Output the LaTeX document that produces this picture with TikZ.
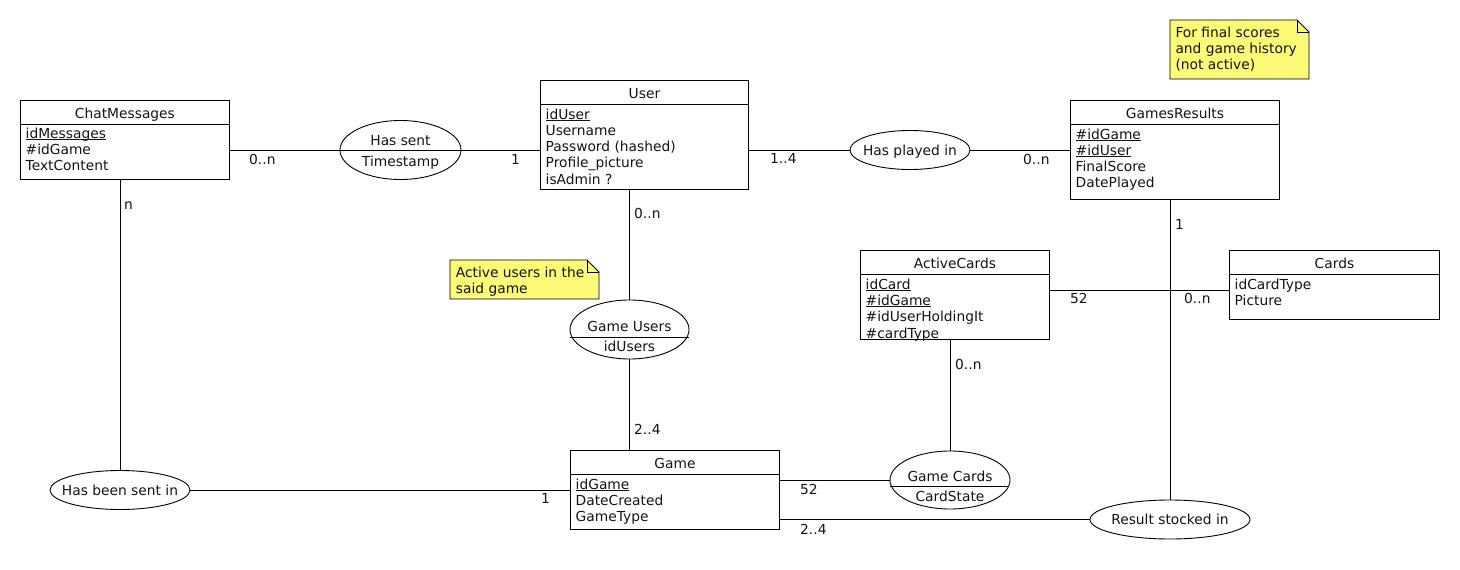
\documentclass[tikz,border=0pt]{standalone}
\usepackage{fontspec}
\setmainfont{DejaVu Sans}
\usetikzlibrary{shapes.geometric}

\definecolor{notefill}{RGB}{251,251,119}
\definecolor{ink}{RGB}{20,20,20}

% underline drawn close to the baseline, through descenders
\newcommand\ulk[1]{\setbox0\hbox{#1}\rlap{\rule[-1.6pt]{\wd0}{0.8pt}}\box0}

% attribute lines of an entity: name, first baseline offset from top, list
\newcommand\attrs[3]{%
  \foreach \a [count=\i] in {#3} {%
    \node[att] (#1-\i) at ([xshift=5.5pt,yshift={-#2-(\i-1)*16.3}]#1.north west) {\a};}}

% entity box with its header line and title
\newcommand\entity[6]{% name, x, y, width, height, title
  \node[ent, minimum width=#4pt, minimum height=#5pt] (#1) at (#2,#3) {};
  \draw[edge] ([yshift=-24.3pt]#1.north west) -- ([yshift=-24.3pt]#1.north east);
  \node[ttl] (#1-title) at ([yshift=-18.3pt]#1.north) {#6};}

% note with a folded corner
\newcommand\notebox[5]{% x1, y1, x2, y2, fold
  \draw[edge, fill=notefill] (#1,#2) -- ({#3-#5},#2) -- (#3,{#2+#5}) -- (#3,#4) -- (#1,#4) -- cycle;
  \draw[edge] ({#3-#5},#2) -- ({#3-#5},{#2+#5}) -- (#3,{#2+#5});}

\tikzset{
  txt/.style={font=\fontsize{13.8}{16}\selectfont, text=ink, inner sep=0pt},
  edge/.style={line width=0.9pt, draw=black},
  ent/.style={edge, rectangle, inner sep=0pt, anchor=north west},
  ttl/.style={txt, anchor=base},
  att/.style={txt, anchor=base west},
  rel/.style={edge, ellipse, inner sep=0pt},
  lab/.style={txt, anchor=base west},
  ctr/.style={txt, anchor=base},
}

\begin{document}
\begin{tikzpicture}[x=1pt,y=-1pt]
\fill[white] (0,0) rectangle (1460,570);
\useasboundingbox (0,0) rectangle (1460,570);

% entities
\entity{chat}{20}{100}{209}{79}{ChatMessages}
\attrs{chat}{38.3}{\ulk{idMessages},\#idGame,TextContent}

\entity{user}{540}{80}{208}{109}{User}
\attrs{user}{39}{\ulk{idUser},Username,Password (hashed),Profile\_picture,isAdmin ?}

\entity{results}{1070}{100}{209}{99}{GamesResults}
\attrs{results}{39}{\ulk{\#idGame},\ulk{\#idUser},FinalScore,DatePlayed}

\entity{active}{860}{250}{189}{89}{ActiveCards}
\attrs{active}{39.3}{\ulk{idCard},\ulk{\#idGame},\#idUserHoldingIt,\#cardType}

\entity{cards}{1229}{250}{210}{69}{Cards}
\attrs{cards}{39}{idCardType,Picture}

\entity{game}{570}{450}{209}{79}{Game}
\attrs{game}{39.3}{\ulk{idGame},DateCreated,GameType}

% relations
\node[rel, minimum width=121pt, minimum height=59pt] (hassent) at (400.5,150) {};
\draw[edge] (hassent.west) -- (hassent.east);
\node[ctr] (hassent-a) at (400.5,145.3) {Has sent};
\node[ctr] (hassent-b) at (400.5,166) {Timestamp};

\node[rel, minimum width=120pt, minimum height=39pt] (played) at (910,150) {};
\node[ctr] (played-a) at (910,155) {Has played in};

\node[rel, minimum width=119pt, minimum height=59pt] (gusers) at (629.5,329.5) {};
\draw[edge] (570,337) -- (689,337);
\node[ctr] (gusers-a) at (629.5,331.7) {Game Users};
\node[ctr] (gusers-b) at (629.5,351.7) {idUsers};

\node[rel, minimum width=120pt, minimum height=58pt] (gcards) at (950,480) {};
\draw[edge] (890,486.7) -- (1009,486.7);
\node[ctr] (gcards-a) at (950,481) {Game Cards};
\node[ctr] (gcards-b) at (950,501.5) {CardState};

\node[rel, minimum width=160pt, minimum height=39pt] (stocked) at (1170,519.5) {};
\node[ctr] (stocked-a) at (1170,524.5) {Result stocked in};

\node[rel, minimum width=140pt, minimum height=39pt] (sentin) at (120,490) {};
\node[ctr] (sentin-a) at (120,495) {Has been sent in};

% notes
\notebox{1170}{20}{1309}{79}{12}
\node[att, align=left] (note1-a) at (1175.3,37.3) {For final scores};
\node[att] (note1-b) at (1175.3,53.3) {and game history};
\node[att] (note1-c) at (1175.3,69.3) {(not active)};

\notebox{450}{260}{599}{299}{12}
\node[att] (note2-a) at (455.7,277.3) {Active users in the};
\node[att] (note2-b) at (455.7,293.3) {said game};

% connectors
\draw[edge] (chat.east |- hassent.west) -- (hassent.west);
\draw[edge] (hassent.east) -- (user.west |- hassent.east);
\draw[edge] (user.east |- played.west) -- (played.west);
\draw[edge] (played.east) -- (results.west |- played.east);
\draw[edge] (user.south -| gusers.north) -- (gusers.north);
\draw[edge] (gusers.south) -- (gusers.south |- game.north);
\draw[edge] (sentin.north |- chat.south) -- (sentin.north);
\draw[edge] (sentin.east) -- (game.west |- sentin.east);
\draw[edge] (game.east |- gcards.west) -- (gcards.west);
\draw[edge] (game.east |- stocked.west) -- (stocked.west);
\draw[edge] (active.south -| gcards.north) -- (gcards.north);
\draw[edge] (results.south -| stocked.north) -- (stocked.north);
\draw[edge] ([yshift=4.5pt]active.east) -- ([yshift=4.5pt]active.east -| cards.west);

% multiplicities
\node[lab] (m1) at (249,164) {0..n};
\node[lab] (m2) at (511,164) {1};
\node[lab] (m3) at (770,163.5) {1..4};
\node[lab] (m4) at (1023,164) {0..n};
\node[lab] (m5) at (634,218) {0..n};
\node[lab] (m6) at (634,434) {2..4};
\node[lab] (m7) at (124,209) {n};
\node[lab] (m8) at (541,503) {1};
\node[lab] (m9) at (800,494) {52};
\node[lab] (m10) at (800,534) {2..4};
\node[lab] (m11) at (955,369) {0..n};
\node[lab] (m12) at (1070,303) {52};
\node[lab] (m13) at (1184,303) {0..n};
\node[lab] (m14) at (1175,229) {1};
\end{tikzpicture}
\end{document}
